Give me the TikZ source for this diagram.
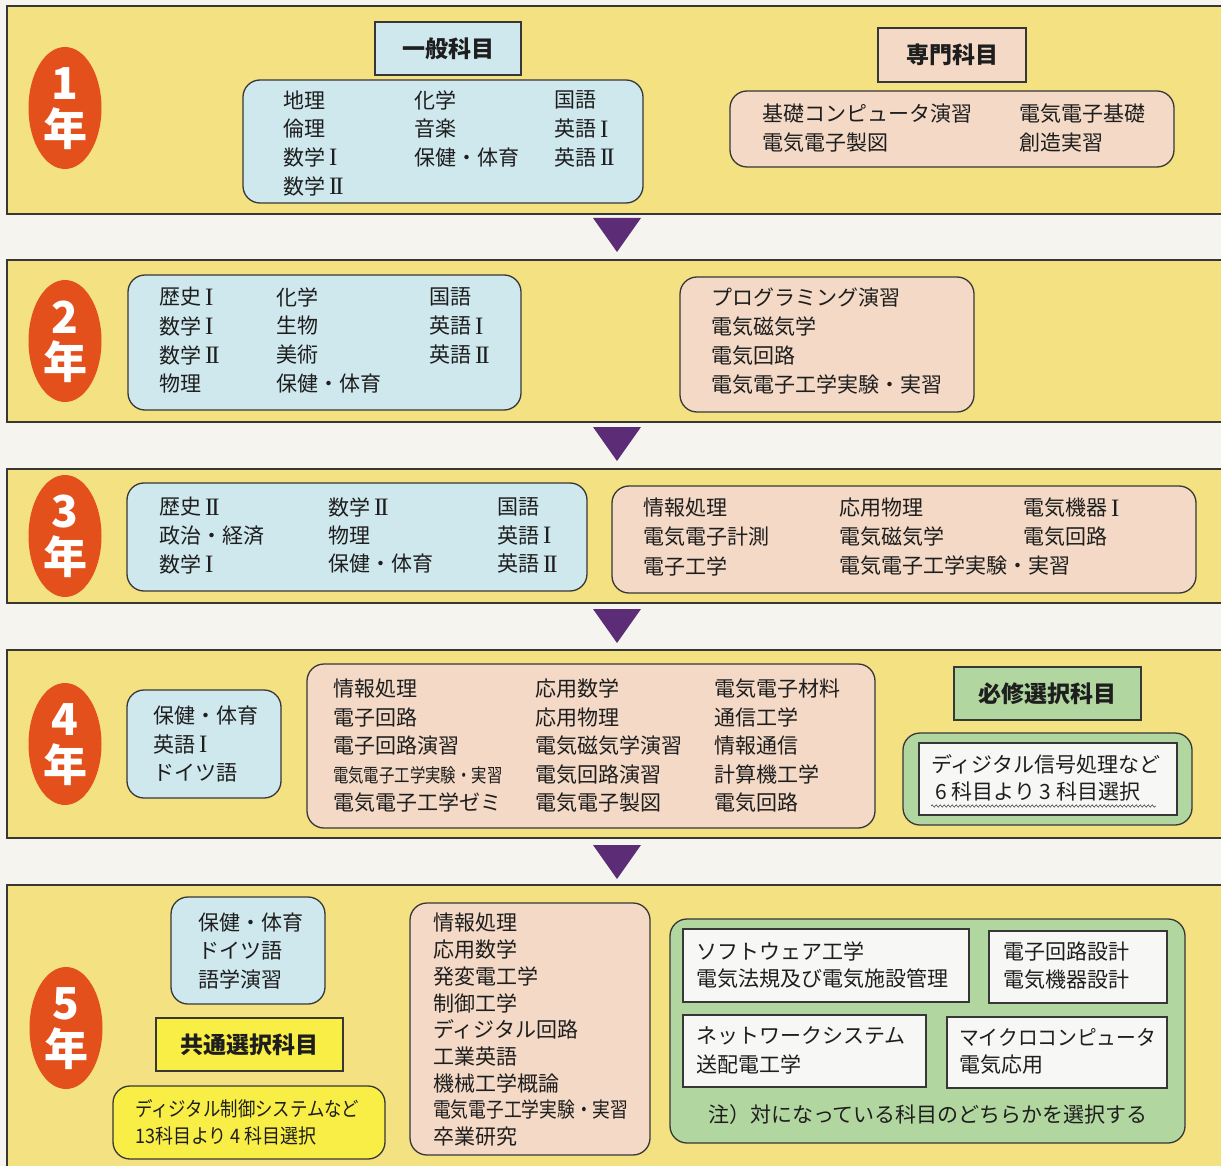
\documentclass[tikz,border=0pt]{standalone}
\usepackage{fontspec}
\usepackage{graphicx}
\setmainfont{Noto Sans CJK JP}
\newfontfamily\romf{Liberation Serif}
\usetikzlibrary{shapes.geometric,decorations.pathmorphing}
\definecolor{bgC}{RGB}{245,244,239}
\definecolor{panelY}{RGB}{244,225,130}
\definecolor{lineC}{RGB}{55,55,55}
\definecolor{blueC}{RGB}{207,232,238}
\definecolor{peachC}{RGB}{243,217,198}
\definecolor{greenC}{RGB}{178,214,160}
\definecolor{yelC}{RGB}{248,238,70}
\definecolor{redC}{RGB}{228,80,27}
\definecolor{purC}{RGB}{92,45,118}
\definecolor{txtC}{RGB}{30,30,30}
\definecolor{whiteC}{RGB}{247,247,245}
\newcommand{\rI}{\hspace{4pt}\raisebox{-0.5pt}{\romf\fontsize{25}{25}\selectfont I}}
\newcommand{\rII}{\hspace{4pt}\raisebox{-0.5pt}{\romf\fontsize{25}{25}\selectfont I\kern-2.2pt I}}
\newcommand{\boxxy}[7]{\node[#2, minimum width={#5-#3}, minimum height={#6-#4}] (#1) at ({(#3+#5)/2},{(#4+#6)/2}) {#7};}
\newcommand{\txtcol}[5]{\foreach \t [count=\i from 0] in {#5} {\node[txt] (#1-\i) at (#2,{#3+#4*\i}) {\t};}}
\begin{document}
\begin{tikzpicture}[x=1pt,y=-1pt,
  panel/.style={draw=lineC, line width=1.4pt, fill=panelY, inner sep=0pt, outer sep=0pt},
  rbox/.style={draw=lineC, line width=1.3pt, rounded corners=17pt, inner sep=0pt, outer sep=0pt},
  bluebox/.style={rbox, fill=blueC},
  peachbox/.style={rbox, fill=peachC},
  greenbox/.style={rbox, fill=greenC},
  yelbox/.style={rbox, fill=yelC},
  sqbox/.style={draw=lineC, line width=1.3pt, inner sep=0pt, outer sep=0pt},
  headbox/.style={sqbox, text=txtC, font=\fontsize{23}{26}\selectfont\bfseries},
  whitebox/.style={sqbox, fill=whiteC},
  txt/.style={anchor=west, inner sep=0pt, text=txtC, font=\fontsize{21}{25}\selectfont},
  badge/.style={ellipse, fill=redC, inner sep=0pt, minimum width=73pt, minimum height=122pt},
  num/.style={text=white, inner sep=0pt, font=\fontsize{44}{44}\selectfont\bfseries},
  tri/.style={fill=purC}
]
\clip (0,0) rectangle (1221,1166);
\fill[bgC] (0,0) rectangle (1221,1166);

% ---------- panels ----------
\boxxy{p1}{panel}{7}{6}{1240}{214}{}
\boxxy{p2}{panel}{7}{260}{1240}{422}{}
\boxxy{p3}{panel}{7}{469}{1240}{603}{}
\boxxy{p4}{panel}{7}{650}{1240}{838}{}
\boxxy{p5}{panel}{7}{885}{1240}{1200}{}

% ---------- triangles ----------
\fill[tri] (593,218) -- (641,218) -- (617,252) -- cycle;
\fill[tri] (593,427) -- (641,427) -- (617,461) -- cycle;
\fill[tri] (593,609) -- (641,609) -- (617,643) -- cycle;
\fill[tri] (593,845) -- (641,845) -- (617,879) -- cycle;

% ---------- badges ----------
\node[badge] (e1) at (65,108) {};
\node[num] (n1) at (65,84) {1};
\node[num] (y1) at (65,129) {年};
\node[badge] (e2) at (65,341) {};
\node[num] (n2) at (65,317) {2};
\node[num] (y2) at (65,362) {年};
\node[badge] (e3) at (65,536) {};
\node[num] (n3) at (65,512) {3};
\node[num] (y3) at (65,557) {年};
\node[badge] (e4) at (65,744) {};
\node[num] (n4) at (65,720) {4};
\node[num] (y4) at (65,765) {年};
\node[badge] (e5) at (66,1028) {};
\node[num] (n5) at (66,1004) {5};
\node[num] (y5) at (66,1049) {年};

% ---------- year 1 ----------
\boxxy{h1}{headbox, fill=blueC}{375}{22}{521}{75}{一般科目}
\boxxy{h2}{headbox, fill=peachC}{878}{28}{1026}{82}{専門科目}
\boxxy{g1}{bluebox}{243}{80}{643}{203}{}
\boxxy{s1}{peachbox}{730}{91}{1174}{167}{}
\txtcol{g1a}{283}{100}{28.7}{地理,倫理,数学\rI,数学\rII}
\txtcol{g1b}{414}{100}{28.7}{化学,音楽,保健・体育}
\txtcol{g1c}{554}{100}{28.7}{国語,英語\rI,英語\rII}
\txtcol{s1a}{762}{114}{28.5}{基礎コンピュータ演習,電気電子製図}
\txtcol{s1b}{1019}{114}{28.5}{電気電子基礎,創造実習}

% ---------- year 2 ----------
\boxxy{g2}{bluebox}{128}{275}{521}{410}{}
\boxxy{s2}{peachbox}{680}{277}{974}{412}{}
\txtcol{g2a}{159}{297}{29}{歴史\rI,数学\rI,数学\rII,物理}
\txtcol{g2b}{276}{297}{29}{化学,生物,美術,保健・体育}
\txtcol{g2c}{429}{297}{29}{国語,英語\rI,英語\rII}
\txtcol{s2a}{711}{298}{29}{プログラミング演習,電気磁気学,電気回路,電気電子工学実験・実習}

% ---------- year 3 ----------
\boxxy{g3}{bluebox}{127}{483}{587}{591}{}
\boxxy{s3}{peachbox}{612}{486}{1196}{593}{}
\txtcol{g3a}{159}{507}{28.5}{歴史\rII,政治・経済,数学\rI}
\txtcol{g3b}{328}{507}{28.5}{数学\rII,物理,保健・体育}
\txtcol{g3c}{497}{507}{28.5}{国語,英語\rI,英語\rII}
\txtcol{s3a}{643}{508}{29}{情報処理,電気電子計測,電子工学}
\txtcol{s3b}{839}{508}{29}{応用物理,電気磁気学,電気電子工学実験・実習}
\txtcol{s3c}{1023}{508}{29}{電気機器\rI,電気回路}

% ---------- year 4 ----------
\boxxy{g4}{bluebox}{127}{690}{281}{798}{}
\boxxy{s4}{peachbox}{307}{664}{875}{828}{}
\txtcol{g4a}{153}{716}{28.5}{保健・体育,英語\rI,ドイツ語}
\txtcol{s4a}{333}{689}{28.5}{情報処理,電子回路,電子回路演習}
\node[txt, font=\fontsize{19}{22}\selectfont] (s4a-3) at (333,775) {\scalebox{0.81}[1]{電気電子工学実験・実習}};
\node[txt] (s4a-4) at (333,803) {電気電子工学ゼミ};
\txtcol{s4b}{535}{689}{28.5}{応用数学,応用物理,電気磁気学演習,電気回路演習,電気電子製図}
\txtcol{s4c}{714}{689}{28.5}{電気電子材料,通信工学,情報通信,計算機工学,電気回路}
\boxxy{h4}{headbox, fill=greenC}{954}{667}{1141}{720}{必修選択科目}
\boxxy{r4}{greenbox}{903}{733}{1192}{825}{}
\boxxy{w4}{whitebox}{919}{743}{1177}{815}{}
\node[txt] (w4t1) at (931,764) {ディジタル信号処理など};
\node[txt] (w4t2) at (935,792) {6 科目より 3 科目選択};
\coordinate (w4l) at (931,806);
\coordinate (w4r) at (1156,806);
\draw[lineC, line width=0.5pt, decorate, decoration={snake, amplitude=1.2pt, segment length=4pt}] (w4l) -- (w4r);

% ---------- year 5 ----------
\boxxy{g5}{bluebox}{171}{897}{325}{1004}{}
\txtcol{g5a}{198}{923}{28}{保健・体育,ドイツ語,語学演習}
\boxxy{h5}{headbox, fill=yelC}{156}{1018}{343}{1071}{共通選択科目}
\boxxy{y5b}{yelbox}{113}{1086}{385}{1159}{}
\node[txt, font=\fontsize{20}{24}\selectfont] (y5t1) at (135,1109) {\scalebox{0.87}[1]{ディジタル制御システムなど}};
\node[txt, font=\fontsize{20}{24}\selectfont] (y5t2) at (135,1136) {\scalebox{0.9}[1]{13科目より 4 科目選択}};
\boxxy{s5}{peachbox}{410}{903}{650}{1155}{}
\txtcol{s5a}{433}{923}{26.7}{情報処理,応用数学,発変電工学,制御工学,ディジタル回路,工業英語,機械工学概論}
\node[txt] (s5a-7) at (433,1110) {\scalebox{0.845}[1]{電気電子工学実験・実習}};
\node[txt] (s5a-8) at (433,1137) {卒業研究};
\boxxy{r5}{greenbox}{670}{919}{1185}{1143}{}
\boxxy{wa}{whitebox}{683}{929}{969}{1002}{}
\boxxy{wb}{whitebox}{989}{931}{1167}{1003}{}
\boxxy{wc}{whitebox}{683}{1015}{926}{1087}{}
\boxxy{wd}{whitebox}{947}{1017}{1167}{1088}{}
\txtcol{wat}{696}{951}{28}{ソフトウェア工学,電気法規及び電気施設管理}
\txtcol{wbt}{1003}{952}{28}{電子回路設計,電気機器設計}
\txtcol{wct}{696}{1036}{28}{ネットワークシステム,送配電工学}
\node[txt] (wdt-0) at (959,1037) {\scalebox{0.94}[1]{マイクロコンピュータ}};
\node[txt] (wdt-1) at (959,1065) {電気応用};
\node[txt, anchor=center] (note) at (928,1115) {注）対になっている科目のどちらかを選択する};
\end{tikzpicture}
\end{document}
